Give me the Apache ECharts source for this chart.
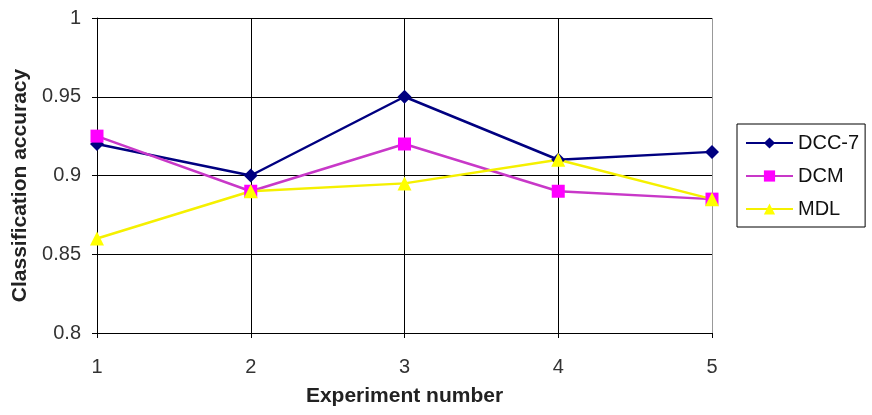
<!DOCTYPE html>
<html>
<head>
<meta charset="utf-8">
<script src="https://cdn.jsdelivr.net/npm/echarts@6/dist/echarts.min.js"></script>
<style>
	html, body { margin: 0; padding: 0; background: #fff; }
	#chart { width: 872px; height: 415px; }
</style>
</head>
<body>
<div id="chart"></div>
<script>
const experiments = ['1', '2', '3', '4', '5'];
const dcc7 = [0.92, 0.9, 0.95, 0.91, 0.915];
const dcm = [0.925, 0.89, 0.92, 0.89, 0.885];
const mdl = [0.86, 0.89, 0.895, 0.91, 0.885];

const font = 'Liberation Sans, Arial, sans-serif';

const chart = echarts.init(document.getElementById('chart'), null, { renderer: 'canvas' });

chart.setOption({
	animation: false,
	backgroundColor: '#fff',
	grid: { left: 97, right: 160, top: 18, bottom: 82 },
	legend: {
		orient: 'vertical',
		left: 737,
		top: 124,
		padding: [9, 6, 8, 8],
		itemGap: 13,
		itemWidth: 47,
		itemHeight: 14,
		borderColor: '#000',
		borderWidth: 1,
		borderRadius: 0,
		textStyle: { fontFamily: font, fontSize: 20, color: '#111' },
		data: ['DCC-7', 'DCM', 'MDL'],
	},
	xAxis: {
		type: 'category',
		data: experiments,
		boundaryGap: false,
		name: 'Experiment number',
		nameLocation: 'middle',
		nameGap: 53,
		nameTextStyle: { fontFamily: font, fontSize: 21, fontWeight: 'bold', color: '#222' },
		axisLine: { lineStyle: { color: '#000', width: 1 } },
		axisTick: { show: true, alignWithLabel: true, length: 5, lineStyle: { color: '#000' } },
		axisLabel: { fontFamily: font, fontSize: 20, color: '#333', margin: 24 },
		splitLine: { show: true, lineStyle: { color: ['#000', '#000', '#000', '#000', '#999'], width: 1 } },
	},
	yAxis: {
		type: 'value',
		min: 0.8,
		max: 1,
		interval: 0.05,
		name: 'Classification accuracy',
		nameLocation: 'middle',
		nameGap: 64,
		nameTextStyle: { fontFamily: font, fontSize: 21, fontWeight: 'bold', color: '#222', padding: [0, 20, 0, 0] },
		axisLine: { show: true, lineStyle: { color: '#000', width: 1 } },
		axisTick: { show: true, length: 5, lineStyle: { color: '#000' } },
		axisLabel: {
			fontFamily: font, fontSize: 20, color: '#333', margin: 16,
			formatter: (v) => String(Math.round(v * 100) / 100),
		},
		splitLine: { show: true, lineStyle: { color: '#000', width: 1 } },
	},
	series: [
		{
			name: 'DCC-7',
			type: 'line',
			data: dcc7,
			symbol: 'diamond',
			symbolSize: 14,
			color: '#000080',
			lineStyle: { color: '#000080', width: 2.5 },
			itemStyle: { color: '#000080' },
		},
		{
			name: 'DCM',
			type: 'line',
			data: dcm,
			symbol: 'rect',
			symbolSize: 13,
			color: '#ff00ff',
			lineStyle: { color: '#c838c8', width: 2.5 },
			itemStyle: { color: '#ff00ff' },
		},
		{
			name: 'MDL',
			type: 'line',
			data: mdl,
			symbol: 'triangle',
			symbolSize: 14,
			color: '#ffff00',
			lineStyle: { color: '#f5f000', width: 2.5 },
			itemStyle: { color: '#ffff00' },
		},
	],
});
</script>
</body>
</html>
